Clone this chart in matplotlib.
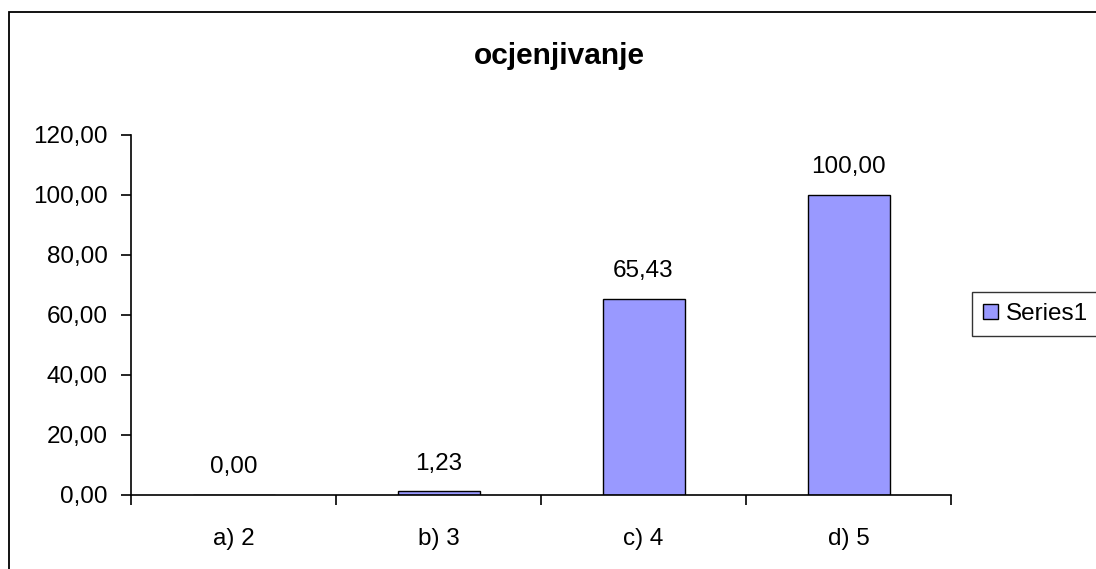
import matplotlib.pyplot as plt
from matplotlib.patches import Patch, Rectangle
from matplotlib.ticker import FuncFormatter, FixedLocator

categories = ['a) 2', 'b) 3', 'c) 4', 'd) 5']
values = [0.00, 1.23, 65.43, 100.00]
series_name = 'Series1'
title = 'ocjenjivanje'

plt.rcParams['font.family'] = ['Liberation Sans', 'DejaVu Sans']

fig = plt.figure(figsize=(10.96, 5.69), dpi=100)
ax = fig.add_axes([131 / 1096, 74 / 569, 820 / 1096, 360 / 569])

# outer chart border (right and bottom run off the picture)
fig.add_artist(Rectangle((9 / 1096, -0.05), 1.1, 1 - 12 / 569 + 0.05,
                         transform=fig.transFigure, fill=False,
                         edgecolor='black', linewidth=1.3, clip_on=False))

x = range(len(categories))
bars = ax.bar(x, values, width=0.40, color='#9999FF', edgecolor='black', linewidth=1.0)

for xi, v in zip(x, values):
    ax.annotate(f'{v:.2f}'.replace('.', ','), (xi, v), xytext=(0, 12),
                textcoords='offset points', ha='center', va='bottom', fontsize=17.5)

ax.set_xlim(-0.5, len(categories) - 0.5)
ax.set_ylim(0, 120)
ax.set_yticks(range(0, 121, 20))
ax.yaxis.set_major_formatter(FuncFormatter(lambda v, p: f'{v:.2f}'.replace('.', ',')))

# category boundaries get ticks, labels sit in the middle
ax.xaxis.set_major_locator(FixedLocator([i - 0.5 for i in range(len(categories) + 1)]))
ax.xaxis.set_minor_locator(FixedLocator(list(x)))
ax.set_xticklabels([])
ax.set_xticklabels(categories, minor=True)
ax.tick_params(axis='x', which='major', length=7, width=1.2, direction='out')
ax.tick_params(axis='x', which='minor', length=0, pad=24, labelsize=17.5)
ax.tick_params(axis='y', length=7, width=1.2, pad=10, labelsize=17.5)

for s in ['top', 'right']:
    ax.spines[s].set_visible(False)
for s in ['left', 'bottom']:
    ax.spines[s].set_linewidth(1.2)

fig.text(559 / 1096, 1 - 56 / 569, title, ha='center', va='center',
         fontsize=21.5, fontweight='bold')

leg = fig.legend(handles=[Patch(facecolor='#9999FF', edgecolor='black', linewidth=1.0, label=series_name)],
                 loc='upper left', bbox_to_anchor=(972 / 1096, 1 - 292 / 569),
                 fontsize=17.5, frameon=True, fancybox=False, shadow=False,
                 handlelength=0.6, handleheight=0.6, handletextpad=0.35,
                 borderpad=0.45, borderaxespad=0)
leg.get_frame().set_edgecolor('black')
leg.get_frame().set_linewidth(1.0)

plt.savefig('out.png', dpi=100)
